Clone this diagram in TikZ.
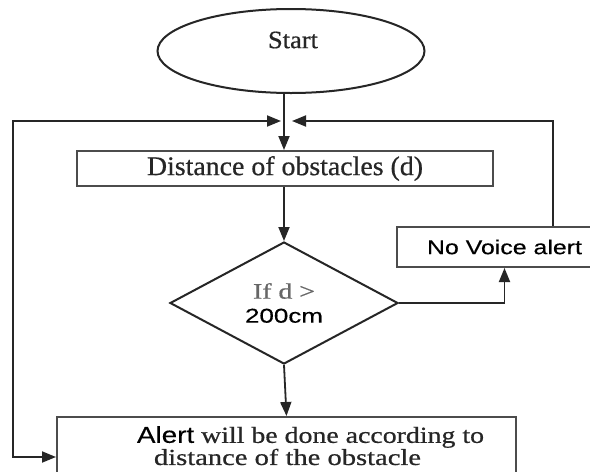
\documentclass[tikz,border=0pt]{standalone}
\usepackage{graphicx}
\usepackage{fontspec}
\setmainfont{Liberation Serif}[FakeBold=0.6]
\newfontfamily\arial{Liberation Sans}[FakeBold=0.3]
\usetikzlibrary{shapes.geometric,arrows.meta}
\newcommand\wtext[3]{\resizebox{#1}{\height}{\fontsize{#2}{#2}\selectfont #3}}
\begin{document}
\begin{tikzpicture}[x=1pt,y=-1pt,
  line/.style={draw=black!85, line width=1.8pt},
  arr/.style={line, -{Triangle[length=14pt,width=11pt]}},
  arrboth/.style={line, {Triangle[length=14pt,width=11pt]}-{Triangle[length=14pt,width=11pt]}},
  box/.style={draw=black!70, line width=2pt, inner sep=0pt},
  txt/.style={inner sep=0pt, text=black!85},
]
\useasboundingbox[fill=white] (0,0) rectangle (590,472);

\node[box, draw=black!85, ellipse, minimum width=267pt, minimum height=84pt] (start) at (291,51) {};
\node[txt] (starttext) at (293,40) {\wtext{50pt}{25}{Start}};

\node[box, minimum width=416pt, minimum height=35pt, text=black!85] (dist) at (285,168.5) {\wtext{276pt}{27}{Distance of obstacles (d)}};

\node[box, draw=black!85, diamond, minimum width=228pt, minimum height=122pt, align=center,
      font=\fontsize{20}{24}\selectfont] (dec) at (284,303)
  {{\color{black!60}\wtext{62pt}{22}{If d >}}\\\arial\wtext{78pt}{20}{200cm}};

\node[box, minimum width=215pt, minimum height=40pt] (novoice) at (504.5,247) {\arial\wtext{155pt}{20}{No Voice alert}};

\node[box, minimum width=459pt, minimum height=83pt] (alert) at (286.5,458.5) {};
\node[txt] (alerta) at (310.5,437) {\wtext{347pt}{23}{{\arial\color{black} Alert} will be done according to}};
\node[txt] (alertb) at (287.5,457) {\wtext{267pt}{23}{distance of the obstacle}};

\coordinate (jc) at (284,121);
\coordinate (jl) at (281,121);
\coordinate (jr) at (292,121);
\coordinate (ll) at (13,121);
\coordinate (lb) at (13,457);
\coordinate (rr) at (553,121);

\draw[arr] (start.south -| jc) -- (dist.north -| jc);
\draw[arrboth] (alert.west |- lb) -- (lb) -- (ll) -- (jl);
\draw[arr] (novoice.north -| rr) -- (rr) -- (jr);
\draw[arr] (dist.south -| dec.north) -- (dec.north);
\draw[arr] (dec.east) -| (novoice.south);
\draw[arr] (dec.south) -- (alert.north);
\end{tikzpicture}
\end{document}
